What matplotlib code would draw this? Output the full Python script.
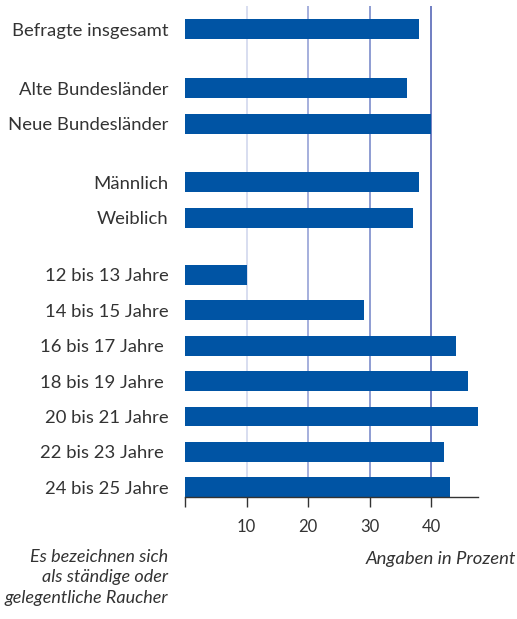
import matplotlib.pyplot as plt

plt.rcParams['font.family'] = ['Lato', 'DejaVu Sans']

labels = ['Befragte insgesamt', 'Alte Bundesländer', 'Neue Bundesländer',
          'Männlich', 'Weiblich', '12 bis 13 Jahre', '14 bis 15 Jahre',
          '16 bis 17 Jahre ', '18 bis 19 Jahre ', '20 bis 21 Jahre',
          '22 bis 23 Jahre ', '24 bis 25 Jahre']
values = [38, 36, 40, 38, 37, 10, 29, 44, 46, 48, 42, 43]
# group gaps: total / region / gender / age
positions = [0, 1.67, 2.67, 4.33, 5.33, 6.95, 7.95, 8.95, 9.95, 10.95, 11.95, 12.95]
ticks = [10, 20, 30, 40]
grid_colors = ['#d6dbef', '#9ea9da', '#8695cf', '#6474bd']

text_col = '#333333'
bar_col = '#0054a4'

fig = plt.figure(figsize=(5.17, 6.19), dpi=100)
ax = fig.add_axes([0.358, 0.197, 0.567, 0.793])

for t, c in zip(ticks, grid_colors):
    ax.axvline(t, color=c, lw=1.3, zorder=1)

ax.barh(positions, values, height=0.56, color=bar_col, zorder=2)

ax.set_xlim(0, 47.6)
ax.set_ylim(13.23, -0.65)
ax.set_yticks(positions)
ax.set_yticklabels(labels, fontsize=13.3, color=text_col)
ax.tick_params(axis='y', length=0, pad=12)
ax.set_xticks([0] + ticks)
ax.set_xticklabels([''] + [str(t) for t in ticks], fontsize=12, color=text_col)
ax.tick_params(axis='x', length=7, width=1, color='#333333', pad=9, direction='out')

for s in ['top', 'right', 'left']:
    ax.spines[s].set_visible(False)
ax.spines['bottom'].set_color('#333333')
ax.spines['bottom'].set_linewidth(1)

fig.text(168 / 517, 1 - 549 / 619, 'Es bezeichnen sich\nals ständige oder\ngelegentliche Raucher',
         ha='right', va='top', style='italic', fontsize=13, color=text_col,
         multialignment='right', linespacing=1.33)
fig.text(516 / 517, 1 - 551 / 619, 'Angaben in Prozent', ha='right', va='top',
         style='italic', fontsize=13.3, color=text_col)

fig.savefig('out.png', dpi=100)
